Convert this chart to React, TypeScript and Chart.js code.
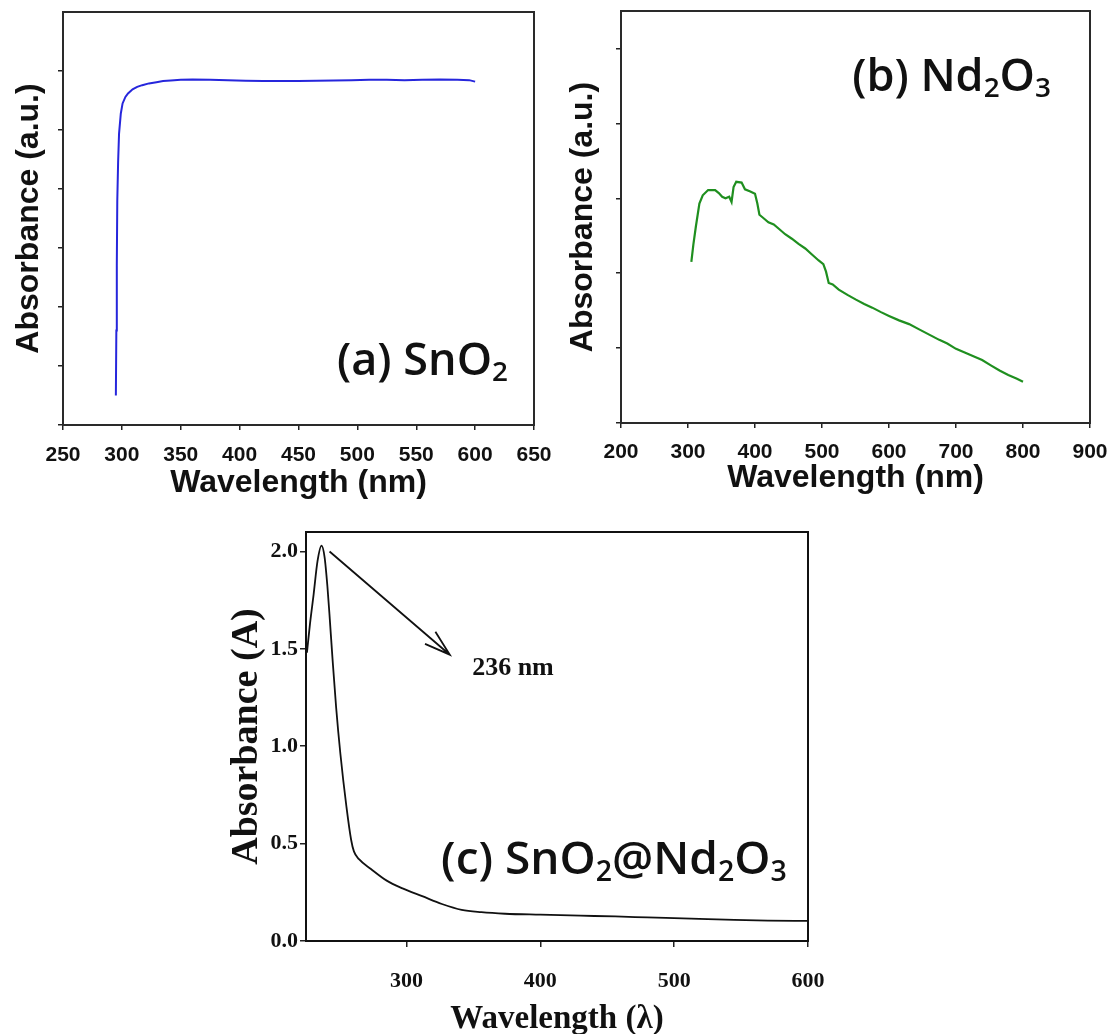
import React, { useEffect, useRef } from "react";
import { Chart, registerables } from "chart.js";

Chart.register(...registerables);

// ---------------- Data ----------------
// (a) SnO2
const SNO2_WAVELENGTH = [294.9, 295.3, 295.7, 296.1, 296.8, 297.6, 299.1, 300.6, 303, 305.2, 309.1, 313, 317.3, 323, 329.4, 335, 341.6, 350, 360, 375, 390, 405, 420, 435, 450, 465, 480, 495, 510, 525, 540, 555, 570, 585, 595, 600];
const SNO2_ABSORBANCE = [0.5, 1.6, 2.7, 3.8, 4.45, 4.94, 5.28, 5.45, 5.56, 5.62, 5.69, 5.73, 5.76, 5.79, 5.81, 5.83, 5.84, 5.85, 5.855, 5.85, 5.845, 5.835, 5.83, 5.83, 5.83, 5.835, 5.84, 5.845, 5.85, 5.85, 5.845, 5.85, 5.855, 5.85, 5.845, 5.82];
const SNO2_X_TICKS = [250, 300, 350, 400, 450, 500, 550, 600, 650];
const SNO2_Y_TICKS = [0, 1, 2, 3, 4, 5, 6];

// (b) Nd2O3
const ND2O3_WAVELENGTH = [305, 308, 311.7, 317, 322, 330, 340.5, 346, 351, 356, 361.5, 365, 368, 372, 380, 385, 393, 400, 403.5, 406.6, 412, 420, 428, 436, 445, 455, 465, 475, 485, 495, 502, 506, 510, 516, 525, 538, 550, 563, 575, 588, 600, 615, 630, 645, 660, 675, 687, 700, 713, 726, 739, 752, 765, 778, 791, 800];
const ND2O3_ABSORBANCE = [2.15, 2.38, 2.62, 2.93, 3.04, 3.11, 3.11, 3.07, 3.02, 3.0, 3.02, 2.95, 3.15, 3.22, 3.21, 3.12, 3.09, 3.06, 2.93, 2.78, 2.74, 2.68, 2.65, 2.59, 2.52, 2.46, 2.39, 2.33, 2.25, 2.17, 2.12, 2.02, 1.87, 1.85, 1.78, 1.71, 1.65, 1.59, 1.54, 1.48, 1.43, 1.37, 1.32, 1.25, 1.18, 1.11, 1.06, 0.99, 0.94, 0.89, 0.84, 0.77, 0.7, 0.64, 0.59, 0.55];
const ND2O3_X_TICKS = [200, 300, 400, 500, 600, 700, 800, 900];
const ND2O3_Y_TICKS = [0, 1, 2, 3, 4, 5];

// (c) SnO2@Nd2O3
const COMPOSITE_WAVELENGTH = [225.7, 228, 230.7, 233.6, 236.6, 238.9, 241, 242.5, 244.8, 247.5, 250.7, 255.2, 258.7, 260.8, 264.6, 273.5, 285.3, 297.1, 311.8, 326.5, 341.3, 356, 373.7, 400, 430, 456, 480, 500, 525, 545, 570, 600];
const COMPOSITE_ABSORBANCE = [1.48, 1.63, 1.78, 1.95, 2.03, 1.97, 1.82, 1.68, 1.45, 1.2, 0.96, 0.69, 0.52, 0.46, 0.42, 0.37, 0.31, 0.27, 0.23, 0.19, 0.16, 0.148, 0.14, 0.135, 0.13, 0.126, 0.121, 0.117, 0.112, 0.108, 0.105, 0.103];
const COMPOSITE_X_TICKS = [300, 400, 500, 600];
const COMPOSITE_Y_TICKS = [0, 0.5, 1.0, 1.5, 2.0];

// Text
const LABEL_A = [{ t: "(a) SnO" }, { t: "2", sub: true }];
const LABEL_B = [{ t: "(b) Nd" }, { t: "2", sub: true }, { t: "O" }, { t: "3", sub: true }];
const LABEL_C = [{ t: "(c) SnO" }, { t: "2", sub: true }, { t: "@Nd" }, { t: "2", sub: true }, { t: "O" }, { t: "3", sub: true }];
const PEAK_TEXT = "236 nm";
const ARROW_FROM = [242.6, 2.0];
const ARROW_TO = [332.4, 1.47];
const PEAK_TEXT_AT = [379.6, 1.4];

const SANS = "'Liberation Sans', Arial, sans-serif";
const SERIF = "'Liberation Serif', 'Times New Roman', serif";
const LABEL_FAMILY = "'Open Sans', 'Noto Sans', sans-serif";

type Seg = { t: string; sub?: boolean };

function drawRich(ctx: CanvasRenderingContext2D, segs: Seg[], x: number, y: number, size: number) {
  let cx = x;
  ctx.textAlign = "left";
  ctx.textBaseline = "alphabetic";
  for (const s of segs) {
    const fs = s.sub ? size * 0.62 : size;
    ctx.font = `600 ${fs}px ${LABEL_FAMILY}`;
    ctx.fillText(s.t, cx, y + (s.sub ? size * 0.14 : 0));
    cx += ctx.measureText(s.t).width;
  }
}

type PanelSpec = {
  key: string;
  left: number; top: number; width: number; height: number;
  area: { left: number; top: number; right: number; bottom: number };
  xs: number[]; ys: number[];
  lineColor: string; lineWidth: number; smooth: boolean;
  xRange: [number, number]; yRange: [number, number];
  xTicks: number[]; yTicks: number[];
  yTickText: (v: number) => string;
  tickFont: any; tickLength: number;
  xTickPadding: number; yTickPadding: number;
  xTitle: string; yTitle: string;
  xTitleFont: any; yTitleFont: any;
  xTitleCenter: number; yTitleCenter: number;
  frameColor: string;
  label: Seg[]; labelAt: [number, number]; labelSize: number;
  arrow?: boolean;
};

const PANELS: PanelSpec[] = [
  {
    key: "a", left: 0, top: 0, width: 560, height: 520,
    area: { left: 63, top: 12, right: 534, bottom: 425 },
    xs: SNO2_WAVELENGTH, ys: SNO2_ABSORBANCE,
    lineColor: "#2626dc", lineWidth: 2, smooth: false,
    xRange: [250, 650], yRange: [0, 7],
    xTicks: SNO2_X_TICKS, yTicks: SNO2_Y_TICKS,
    yTickText: () => "",
    tickFont: { family: SANS, size: 21, weight: "bold" }, tickLength: 5,
    xTickPadding: 12.4, yTickPadding: 2,
    xTitle: "Wavelength (nm)", yTitle: "Absorbance (a.u.)",
    xTitleFont: { family: SANS, size: 32, weight: "bold" },
    yTitleFont: { family: SANS, size: 32, weight: "bold" },
    xTitleCenter: 483, yTitleCenter: 29,
    frameColor: "#2a2a2a",
    label: LABEL_A, labelAt: [482.7, 0.847], labelSize: 45,
  },
  {
    key: "b", left: 560, top: 0, width: 552, height: 520,
    area: { left: 61, top: 11, right: 530, bottom: 423 },
    xs: ND2O3_WAVELENGTH, ys: ND2O3_ABSORBANCE,
    lineColor: "#1f8f1f", lineWidth: 2.2, smooth: false,
    xRange: [200, 900], yRange: [0, 5.5],
    xTicks: ND2O3_X_TICKS, yTicks: ND2O3_Y_TICKS,
    yTickText: () => "",
    tickFont: { family: SANS, size: 21, weight: "bold" }, tickLength: 5,
    xTickPadding: 11.9, yTickPadding: 2,
    xTitle: "Wavelength (nm)", yTitle: "Absorbance (a.u.)",
    xTitleFont: { family: SANS, size: 32, weight: "bold" },
    yTitleFont: { family: SANS, size: 32, weight: "bold" },
    xTitleCenter: 478.5, yTitleCenter: 23,
    frameColor: "#2a2a2a",
    label: LABEL_B, labelAt: [545, 4.436], labelSize: 45,
  },
  {
    key: "c", left: 200, top: 520, width: 640, height: 540,
    area: { left: 106, top: 12, right: 608, bottom: 421 },
    xs: COMPOSITE_WAVELENGTH, ys: COMPOSITE_ABSORBANCE,
    lineColor: "#111", lineWidth: 1.8, smooth: true,
    xRange: [225, 600], yRange: [0, 2.1],
    xTicks: COMPOSITE_X_TICKS, yTicks: COMPOSITE_Y_TICKS,
    yTickText: (v: number) => v.toFixed(1),
    tickFont: { family: SERIF, size: 22, weight: "bold" }, tickLength: 6,
    xTickPadding: 20.8, yTickPadding: 2,
    xTitle: "Wavelength (λ)", yTitle: "Absorbance (A)",
    xTitleFont: { family: SERIF, size: 33, weight: "bold" },
    yTitleFont: { family: SERIF, size: 38, weight: "bold" },
    xTitleCenter: 499, yTitleCenter: 47,
    frameColor: "#111",
    label: LABEL_C, labelAt: [325.9, 0.343], labelSize: 46,
    arrow: true,
  },
];

function makeConfig(p: PanelSpec): any {
  const xLH = p.xTitleFont.size * 1.2;
  const yLH = p.yTitleFont.size * 1.2;
  const decor = {
    id: "decor" + p.key,
    afterDatasetsDraw(chart: any) {
      const { ctx, chartArea: a, scales } = chart;
      const xs = scales.x;
      const ys = scales.y;
      ctx.save();
      ctx.strokeStyle = p.frameColor;
      ctx.lineWidth = 2;
      ctx.strokeRect(a.left, a.top, a.right - a.left, a.bottom - a.top);
      ctx.fillStyle = "#111";
      drawRich(ctx, p.label, xs.getPixelForValue(p.labelAt[0]), ys.getPixelForValue(p.labelAt[1]), p.labelSize);
      if (p.arrow) {
        const x0 = xs.getPixelForValue(ARROW_FROM[0]);
        const y0 = ys.getPixelForValue(ARROW_FROM[1]);
        const x1 = xs.getPixelForValue(ARROW_TO[0]);
        const y1 = ys.getPixelForValue(ARROW_TO[1]);
        const ang = Math.atan2(y1 - y0, x1 - x0);
        const L = 27;
        const h = 0.3;
        ctx.strokeStyle = "#111";
        ctx.lineWidth = 1.8;
        ctx.beginPath();
        ctx.moveTo(x0, y0);
        ctx.lineTo(x1, y1);
        ctx.moveTo(x1 - L * Math.cos(ang - h), y1 - L * Math.sin(ang - h));
        ctx.lineTo(x1, y1);
        ctx.lineTo(x1 - L * Math.cos(ang + h), y1 - L * Math.sin(ang + h));
        ctx.stroke();
        ctx.font = `bold 26px ${SERIF}`;
        ctx.textAlign = "center";
        ctx.textBaseline = "middle";
        ctx.fillText(PEAK_TEXT, xs.getPixelForValue(PEAK_TEXT_AT[0]), ys.getPixelForValue(PEAK_TEXT_AT[1]));
      }
      ctx.restore();
    },
  };
  const grid = {
    display: true,
    drawOnChartArea: false,
    drawTicks: true,
    tickLength: p.tickLength,
    color: "#222",
    lineWidth: 1.5,
  };
  return {
    type: "line",
    data: {
      datasets: [
        {
          data: p.xs.map((x, i) => ({ x, y: p.ys[i] })),
          borderColor: p.lineColor,
          borderWidth: p.lineWidth,
          pointRadius: 0,
          fill: false,
          tension: 0,
          cubicInterpolationMode: p.smooth ? "monotone" : "default",
        },
      ],
    },
    options: {
      responsive: false,
      maintainAspectRatio: false,
      animation: false,
      events: [],
      layout: { padding: { top: p.area.top, right: p.width - p.area.right, left: 0, bottom: 0 } },
      plugins: { legend: { display: false }, tooltip: { enabled: false }, title: { display: false } },
      scales: {
        x: {
          type: "linear",
          position: "bottom",
          min: p.xRange[0],
          max: p.xRange[1],
          afterBuildTicks: (s: any) => {
            s.ticks = p.xTicks.map((v) => ({ value: v }));
          },
          afterFit: (s: any) => {
            s.height = p.height - p.area.bottom;
            s.paddingLeft = 0;
            s.paddingRight = 0;
          },
          grid,
          border: { display: false },
          ticks: {
            padding: p.xTickPadding,
            font: p.tickFont,
            color: "#111",
            maxRotation: 0,
            autoSkip: false,
            callback: (v: number) => String(v),
          },
          title: {
            display: true,
            text: p.xTitle,
            font: p.xTitleFont,
            color: "#111",
            padding: { top: 0, bottom: p.height - xLH / 2 - p.xTitleCenter },
          },
        },
        y: {
          type: "linear",
          position: "left",
          min: p.yRange[0],
          max: p.yRange[1],
          afterBuildTicks: (s: any) => {
            s.ticks = p.yTicks.map((v) => ({ value: v }));
          },
          afterFit: (s: any) => {
            s.width = p.area.left;
            s.paddingTop = 0;
            s.paddingBottom = 0;
          },
          grid,
          border: { display: false },
          ticks: {
            padding: p.yTickPadding,
            font: p.tickFont,
            color: "#111",
            callback: (v: number) => p.yTickText(v),
          },
          title: {
            display: true,
            text: p.yTitle,
            font: p.yTitleFont,
            color: "#111",
            padding: { top: p.yTitleCenter - yLH / 2, bottom: 0 },
          },
        },
      },
    },
    plugins: [decor],
  };
}

function Panel({ spec }: { spec: PanelSpec }) {
  const ref = useRef<HTMLCanvasElement>(null);
  useEffect(() => {
    if (!ref.current) return;
    const chart = new Chart(ref.current, makeConfig(spec));
    return () => chart.destroy();
  }, [spec]);
  return (
    <canvas
      ref={ref}
      width={spec.width}
      height={spec.height}
      style={{ position: "absolute", left: spec.left, top: spec.top, width: spec.width, height: spec.height }}
    />
  );
}

export default function App() {
  return (
    <div
      style={{
        position: "absolute",
        left: 0,
        top: 0,
        width: 1112,
        height: 1034,
        overflow: "hidden",
        background: "#fff",
      }}
    >
      {PANELS.map((p) => (
        <Panel key={p.key} spec={p} />
      ))}
    </div>
  );
}
